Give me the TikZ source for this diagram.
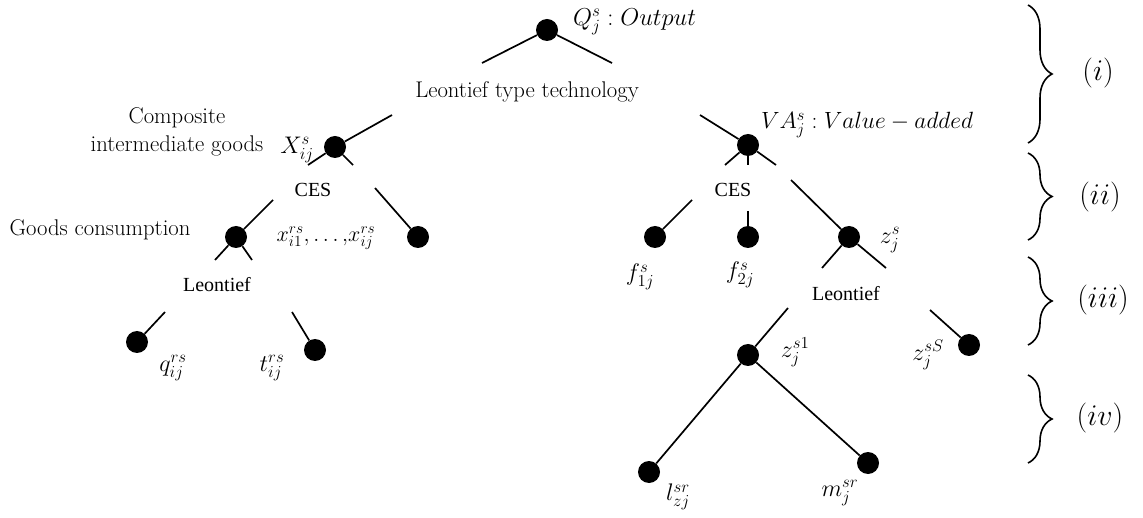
\RequirePackage{fix-cm}
\documentclass[tikz,border=0pt]{standalone}
\usepackage{fontspec}
\newfontfamily\tnr{Liberation Serif}
\usetikzlibrary{decorations.pathreplacing}
\tikzset{
  dot/.style={circle, fill=black, inner sep=0pt, minimum size=22pt},
  edge/.style={line width=1.7pt},
  txt/.style={font=\fontsize{22.7}{28}\selectfont, inner sep=0pt, align=center},
  tnrtxt/.style={font=\tnr\fontsize{20}{24}\selectfont, inner sep=0pt},
  lab/.style={font=\fontsize{24}{28}\selectfont, inner sep=0pt},
  biglab/.style={font=\fontsize{24.5}{30}\selectfont, inner sep=0pt},
  lvl/.style={font=\fontsize{30}{36}\selectfont, inner sep=0pt},
  brc/.style={decorate, decoration={brace, amplitude=24pt}, line width=1.6pt},
}
\begin{document}
\begin{tikzpicture}[x=1pt, y=-1pt]
\useasboundingbox (0,0) rectangle (1143,518);
% ---- level (i)
\node[dot] (Q) at (547,30) {};
\coordinate (qL) at (482,63);
\coordinate (qR) at (612,63);
\draw[edge] (Q) -- (qL);
\draw[edge] (Q) -- (qR);
\node[biglab, anchor=west] (Qlab) at (573,22) {$Q_j^s : Output$};
\node[txt] (LTT) at (527,92) {Leontief type technology};
% ---- left branch
\coordinate (xU) at (392,115);
\node[dot] (X) at (335,147) {};
\coordinate (xL) at (308,165);
\coordinate (xR) at (353,165);
\draw[edge] (xU) -- (X);
\draw[edge] (X) -- (xL);
\draw[edge] (X) -- (xR);
\node[lab] (Xlab) at (297,150) {$X_{ij}^s$};
\node[txt] (CIG) at (177,132) {Composite\\intermediate goods};
\node[tnrtxt] (CESL) at (313,190) {CES};
% goods consumption
\coordinate (gU) at (273,200);
\node[dot] (G) at (236,237) {};
\coordinate (gL) at (215,260);
\coordinate (gR) at (252,260);
\draw[edge] (gU) -- (G);
\draw[edge] (G) -- (gL);
\draw[edge] (G) -- (gR);
\node[txt] (GC) at (100,230) {Goods consumption};
\coordinate (oU) at (375,188);
\node[dot] (O) at (418,237) {};
\draw[edge] (oU) -- (O);
\node[font=\fontsize{22}{26}\selectfont, inner sep=0pt] (xlab) at (326,238) {$x_{i1}^{rs}{,}\ldots{,}x_{ij}^{rs}$};
\node[tnrtxt] (LeoL) at (217,285) {Leontief};
\coordinate (qU) at (165,312);
\node[dot] (qd) at (137,342) {};
\draw[edge] (qU) -- (qd);
\coordinate (tU) at (292,312);
\node[dot] (td) at (315,350) {};
\draw[edge] (tU) -- (td);
\node[lab] (qlab) at (173,368) {$q_{ij}^{rs}$};
\node[lab] (tlab) at (272,368) {$t_{ij}^{rs}$};
% ---- right branch
\coordinate (vU) at (700,115);
\node[dot] (VA) at (748,145) {};
\coordinate (vL) at (725,165);
\coordinate (vM) at (748,165);
\coordinate (vR) at (776,165);
\draw[edge] (vU) -- (VA);
\draw[edge] (VA) -- (vL);
\draw[edge] (VA) -- (vM);
\draw[edge] (VA) -- (vR);
\node[font=\fontsize{23.5}{28}\selectfont, inner sep=0pt, anchor=west] (VAlab) at (761,125) {$VA_j^s : Value - added$};
\node[tnrtxt] (CESR) at (733,190) {CES};
\coordinate (f1U) at (692,200);
\node[dot] (f1) at (655,237) {};
\draw[edge] (f1U) -- (f1);
\coordinate (f2U) at (748,211);
\node[dot] (f2) at (748,237) {};
\draw[edge] (f2U) -- (f2);
\coordinate (zU) at (791,180);
\node[dot] (z) at (849,237) {};
\coordinate (zL) at (822,268);
\coordinate (zR) at (886,268);
\draw[edge] (zU) -- (z);
\draw[edge] (z) -- (zL);
\draw[edge] (z) -- (zR);
\node[lab] (zlab) at (890,240) {$z_j^s$};
\node[lab] (f1lab) at (640,277) {$f_{1j}^s$};
\node[lab] (f2lab) at (740,275) {$f_{2j}^s$};
\node[tnrtxt] (LeoR) at (846,294) {Leontief};
\coordinate (z1U) at (788,308);
\node[dot] (z1) at (748,355) {};
\draw[edge] (z1U) -- (z1);
\coordinate (zSU) at (930,310);
\node[dot] (zS) at (969,345) {};
\draw[edge] (zSU) -- (zS);
\node[lab] (z1lab) at (795,352) {$z_j^{s1}$};
\node[lab] (zSlab) at (928,355) {$z_j^{sS}$};
\node[dot] (l) at (649,472) {};
\node[dot] (m) at (868,463) {};
\draw[edge] (z1) -- (l);
\draw[edge] (z1) -- (m);
\node[lab] (llab) at (678,497) {$l_{zj}^{sr}$};
\node[lab] (mlab) at (840,493) {$m_j^{sr}$};
% ---- braces
\draw[brc] (1028,5) -- (1028,143);
\draw[brc] (1028,153) -- (1028,240);
\draw[brc] (1028,257) -- (1028,345);
\draw[brc] (1028,375) -- (1028,463);
\node[lvl] (L1) at (1098,73) {$(i)$};
\node[lvl] (L2) at (1100,197) {$(ii)$};
\node[lvl] (L3) at (1103,300) {$(iii)$};
\node[lvl] (L4) at (1100,418) {$(iv)$};
\end{tikzpicture}
\end{document}
